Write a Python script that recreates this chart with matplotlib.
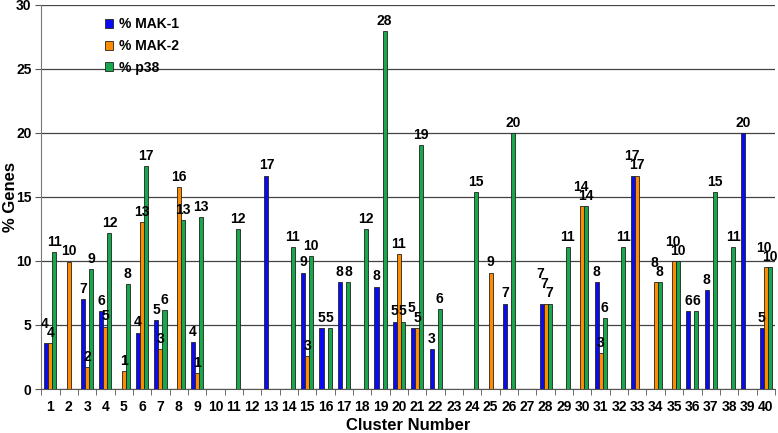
import numpy as np
import matplotlib
matplotlib.use('Agg')
import matplotlib.pyplot as plt

plt.rcParams['font.family'] = ['Liberation Sans', 'DejaVu Sans']
plt.rcParams['font.weight'] = 'bold'

# ── DATA ──────────────────────────────────────────────────────────────────────
clusters = list(range(1, 41))
# None = no bar for that cluster
mak1 = [3.57, None, 7.0, 6.09, None, 4.4, 5.39, None, 3.67, None,
        None, None, 16.67, None, 9.09, 4.77, 8.33, None, 8.0, 5.26,
        4.77, 3.13, None, None, None, 6.67, None, 6.67, None, None,
        8.33, None, 16.67, None, None, 6.07, 7.71, None, 20.0, 4.77]
mak2 = [3.57, 9.95, 1.74, 4.87, 1.41, 13.05, 3.1, 15.78, 1.22, None,
        None, None, None, None, 2.58, None, None, None, None, 10.52,
        4.77, None, None, None, 9.09, None, None, 6.67, None, 14.27,
        2.78, None, 16.67, 8.33, 9.97, None, None, None, None, 9.5]
p38 = [10.68, None, 9.35, 12.19, 8.2, 17.4, 6.17, 13.18, 13.41, None,
       12.5, None, None, 11.09, 10.39, 4.77, 8.33, 12.5, 27.97, 5.26,
       19.03, 6.22, None, 15.36, None, 19.97, None, 6.67, 11.09, 14.27,
       5.55, 11.09, None, 8.33, 9.97, 6.07, 15.36, 11.09, None, 9.5]

series = [('% MAK-1', mak1, '#0a0af5'),
          ('% MAK-2', mak2, '#ff8c00'),
          ('% p38',   p38,  '#17a84b')]

# ── PLOT ──────────────────────────────────────────────────────────────────────
fig = plt.figure(figsize=(7.78, 4.33), dpi=100)
ax = fig.add_axes([0.053, 0.1016, 0.943, 0.887])

x = np.arange(len(clusters))
bw = 0.22
for i, (name, vals, col) in enumerate(series):
    off = (i - 1) * bw
    xs = [x[k] + off for k, v in enumerate(vals) if v is not None]
    hs = [v for v in vals if v is not None]
    ax.bar(xs, hs, width=bw, color=col, edgecolor='#222222', linewidth=0.6,
           label=name, zorder=3)

# value labels; when neighbouring bars share a value, lift the left label
for k in range(len(clusters)):
    vals = [s[1][k] for s in series]
    lift = [0.0, 0.0, 0.0]
    for i in (1, 0):
        a, b = vals[i], vals[i + 1]
        if a is not None and b is not None and abs(a - b) < 0.3:
            lift[i] = lift[i + 1] + 0.75
    for i, v in enumerate(vals):
        if v is None:
            continue
        dx = -0.08 if lift[i] > 0 else 0.0
        ax.text(x[k] + (i - 1) * bw + dx, v + 0.25 + lift[i], f'{v:.0f}',
                ha='center', va='bottom', fontsize=10, fontweight='bold',
                zorder=4)

ax.set_xlim(-0.5, len(clusters) - 0.5)
ax.set_ylim(0, 30)
ax.set_yticks(range(0, 31, 5))
ax.yaxis.grid(True, color='#444444', linewidth=0.9, zorder=0)
ax.set_xticks(x)
ax.set_xticklabels([str(c) for c in clusters], fontsize=10, fontweight='bold')
ax.set_xticks(np.arange(-0.5, len(clusters)), minor=True)
ax.tick_params(axis='x', which='major', length=0, pad=8)
ax.tick_params(axis='x', which='minor', length=4, color='#555555')
ax.tick_params(axis='y', length=4, color='#555555', labelsize=10, pad=3)
for lab in ax.get_yticklabels():
    lab.set_fontweight('bold')

for s in ['top', 'right']:
    ax.spines[s].set_visible(False)
ax.spines['left'].set_color('#777777')
ax.spines['bottom'].set_color('#555555')

ax.set_xlabel('Cluster Number', fontsize=12, fontweight='bold')
ax.xaxis.set_label_coords(0.5, -0.076)
ax.set_ylabel('% Genes', fontsize=12, fontweight='bold')
ax.yaxis.set_label_coords(-0.032, 0.5)

leg = ax.legend(loc='upper left', bbox_to_anchor=(0.07, 1.0), frameon=False,
                fontsize=10, handlelength=0.6, handleheight=0.6,
                handletextpad=0.4, labelspacing=0.55)
for t in leg.get_texts():
    t.set_fontweight('bold')

plt.savefig('out.png', dpi=100)
